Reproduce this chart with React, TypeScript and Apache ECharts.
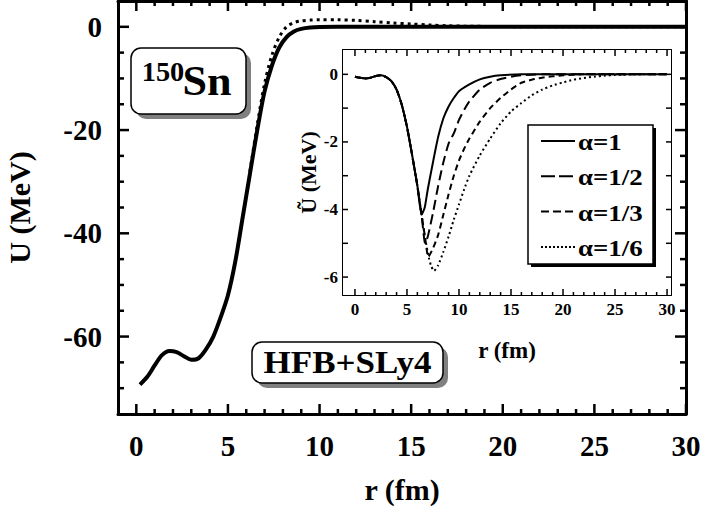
import React, { useEffect, useRef } from "react";
import * as echarts from "echarts";

const FONT = "Liberation Serif, Times New Roman, Times, serif";

// ---- tick labels ----
const MAIN_X_LABELS = [0, 5, 10, 15, 20, 25, 30];
const MAIN_Y_LABELS = [0, -20, -40, -60];
const INSET_X_LABELS = [0, 5, 10, 15, 20, 25, 30];
const INSET_Y_LABELS = [0, -2, -4, -6];
const LEGEND_LABELS = ["α=1", "α=1/2", "α=1/3", "α=1/6"];

// ---- tick positions ----
const MAIN_X_TICKS = [0, 1, 2, 3, 4, 5, 6, 7, 8, 9, 10, 11, 12, 13, 14, 15, 16, 17, 18, 19, 20, 21, 22, 23, 24, 25, 26, 27, 28, 29, 30];
const MAIN_Y_TICKS = [-70, -65, -60, -55, -50, -45, -40, -35, -30, -25, -20, -15, -10, -5, 0];
const INSET_X_TICKS = MAIN_X_TICKS;
const INSET_Y_TICKS = [-6, -5, -4, -3, -2, -1, 0];

// ---- main panel: U(r) ----
const mainR1 = [0.2, 0.6, 1.0, 1.4, 1.8, 2.2, 2.6, 3.0, 3.4, 3.8, 4.2, 4.6, 5.0, 5.4, 5.8, 6.2, 6.6, 7.0, 7.4, 7.8, 8.2, 8.6, 9.0, 9.5, 10, 11, 30];
const mainU1 = [-69.3, -67.8, -65.6, -63.6, -62.8, -63.0, -63.8, -64.5, -64.2, -62.5, -60.0, -56.3, -52.0, -45.5, -37.0, -28.5, -20.0, -12.5, -7.5, -4.0, -2.0, -0.9, -0.4, -0.15, -0.05, 0, 0];
const mainR6 = [6.2, 6.6, 7.0, 7.4, 7.8, 8.2, 8.6, 9.0, 9.5, 10, 11, 12, 13, 14, 15, 16, 17, 18, 20, 22, 30];
const mainU6 = [-28.0, -19.0, -11.0, -5.5, -2.0, 0.0, 0.8, 1.15, 1.3, 1.35, 1.35, 1.25, 1.0, 0.75, 0.55, 0.35, 0.2, 0.12, 0.05, 0, 0];

// ---- inset: U~(r) ----
const insetR1 = [0, 0.5, 1, 1.5, 2, 2.5, 3, 3.5, 4, 4.5, 5, 5.5, 6, 6.4, 6.7, 7, 7.5, 8, 8.5, 9, 9.5, 10, 11, 12, 13, 14, 16, 30];
const insetU1 = [-0.07, -0.1, -0.12, -0.1, -0.05, -0.03, -0.08, -0.2, -0.45, -0.9, -1.55, -2.4, -3.3, -4.15, -3.95, -3.4, -2.6, -1.85, -1.3, -0.95, -0.7, -0.5, -0.3, -0.15, -0.07, -0.03, 0, 0];
const insetR2 = [0, 0.5, 1, 1.5, 2, 2.5, 3, 3.5, 4, 4.5, 5, 5.5, 6, 6.4, 6.75, 7, 7.5, 8, 8.5, 9, 9.5, 10, 10.5, 11, 12, 13, 14, 15, 16, 18, 30];
const insetU2 = [-0.07, -0.1, -0.12, -0.1, -0.05, -0.03, -0.08, -0.2, -0.45, -0.9, -1.55, -2.4, -3.3, -4.15, -5.0, -4.8, -4.1, -3.3, -2.6, -2.05, -1.75, -1.35, -1.05, -0.8, -0.45, -0.25, -0.14, -0.07, -0.03, 0, 0];
const insetR3 = [0, 0.5, 1, 1.5, 2, 2.5, 3, 3.5, 4, 4.5, 5, 5.5, 6, 6.4, 6.75, 7.05, 7.5, 8, 8.5, 9, 9.5, 10, 10.5, 11, 12, 13, 14, 15, 16, 17, 18, 19, 20, 22, 30];
const insetU3 = [-0.07, -0.1, -0.12, -0.1, -0.05, -0.03, -0.08, -0.2, -0.45, -0.9, -1.55, -2.4, -3.3, -4.15, -4.85, -5.4, -5.15, -4.75, -4.15, -3.55, -3.0, -2.55, -2.2, -1.9, -1.4, -1.0, -0.7, -0.45, -0.25, -0.16, -0.1, -0.06, -0.03, 0, 0];
const insetR6 = [0, 0.5, 1, 1.5, 2, 2.5, 3, 3.5, 4, 4.5, 5, 5.5, 6, 6.4, 6.75, 7.05, 7.3, 7.6, 8, 8.5, 9, 9.5, 10, 10.5, 11, 12, 13, 14, 15, 16, 17, 18, 19, 20, 21, 22, 23, 24, 25, 27, 30];
const insetU6 = [-0.07, -0.1, -0.12, -0.1, -0.05, -0.03, -0.08, -0.2, -0.45, -0.9, -1.55, -2.4, -3.3, -4.15, -4.85, -5.35, -5.65, -5.82, -5.65, -5.25, -4.8, -4.3, -3.85, -3.4, -3.0, -2.4, -1.9, -1.45, -1.1, -0.85, -0.62, -0.45, -0.33, -0.24, -0.16, -0.11, -0.07, -0.04, -0.02, 0, 0];

function zip(xs: number[], ys: number[]) {
  return xs.map((x, i) => [x, ys[i]]);
}

const BLACK = "#000";
const labelStyle = (size: number, margin: number, allowed: number[]) => ({
  show: true,
  color: BLACK,
  fontFamily: FONT,
  fontWeight: "bold",
  fontSize: size,
  margin,
  showMinLabel: true,
  showMaxLabel: true,
  formatter: (v: number) => (allowed.some((a) => Math.abs(a - v) < 1e-6) ? String(v) : ""),
});
const nameStyle = (size: number) => ({ color: BLACK, fontFamily: FONT, fontWeight: "bold", fontSize: size });

function hidden(gridIndex: number) {
  return { type: "value", gridIndex, show: false, min: 0, max: 1 };
}

function frameAxis(gridIndex: number, position: string, min: number, max: number, lw: number, extra: any = {}) {
  return {
    type: "value",
    gridIndex,
    position,
    min,
    max,
    splitLine: { show: false },
    axisLine: { show: true, onZero: false, lineStyle: { color: BLACK, width: lw } },
    axisTick: { show: false },
    axisLabel: { show: false },
    ...extra,
  };
}

// label-only axis on an overlay grid whose range starts on a label value
function labelAxis(gridIndex: number, position: string, min: number, max: number, interval: number, label: any) {
  return {
    type: "value",
    gridIndex,
    position,
    min,
    max,
    interval,
    splitLine: { show: false },
    axisLine: { show: false, onZero: false },
    axisTick: { show: false },
    axisLabel: label,
  };
}

function textEl(text: string, x: number, y: number, size: number, align: string, scaleX: number, z = 20) {
  return {
    type: "text",
    x,
    y,
    scaleX,
    z,
    silent: true,
    style: {
      text,
      x: 0,
      y: 0,
      fill: BLACK,
      font: `bold ${size}px ${FONT}`,
      textAlign: align,
      align,
      textVerticalAlign: "middle",
      verticalAlign: "middle",
    },
  };
}

export default function App() {
  const ref = useRef<HTMLDivElement>(null);
  useEffect(() => {
    if (!ref.current) return;
    const chart = echarts.init(ref.current, null, { renderer: "svg" });

    // main geometry
    const mL = 118, mT = 1, mW = 568, mH = 413;
    const mxMin = -1, mxMax = 30, myMin = -75, myMax = 5;
    const mpx = mW / (mxMax - mxMin);
    const mpy = mH / (myMax - myMin);
    // inset geometry
    const iL = 343, iT = 50, iW = 328, iH = 245;
    const ixMin = -1.15, ixMax = 30.38, iyMin = -6.53, iyMax = 0.72;
    const ipx = iW / (ixMax - ixMin);
    const ipy = iH / (iyMax - iyMin);

    const G = (o: any) => ({ outerBoundsMode: "none", containLabel: false, ...o });
    const grid = [
      G({ left: mL, top: mT, width: mW, height: mH }), // 0 main data
      G({ left: mL + (0 - mxMin) * mpx, top: mT, width: 30 * mpx, height: mH }), // 1 main x labels
      G({ left: mL, top: mT + (myMax - 0) * mpy, width: mW, height: 60 * mpy }), // 2 main y labels
      G({ left: iL, top: iT, width: iW, height: iH, show: true, backgroundColor: "#fff", borderWidth: 0, z: 5 }), // 3 inset data
      G({ left: iL + (0 - ixMin) * ipx, top: iT, width: 30 * ipx, height: iH }), // 4 inset x labels
      G({ left: iL, top: iT + (iyMax - 0) * ipy, width: iW, height: 6 * ipy }), // 5 inset y labels
    ];

    const xAxis = [
      frameAxis(0, "bottom", mxMin, mxMax, 3, {
        name: "r (fm)", nameLocation: "middle", nameGap: 60, nameTextStyle: nameStyle(30),
      }), // 0
      frameAxis(0, "top", mxMin, mxMax, 3), // 1
      labelAxis(1, "bottom", 0, 30, 5, labelStyle(29, 17, MAIN_X_LABELS)), // 2
      hidden(2), // 3
      frameAxis(3, "bottom", ixMin, ixMax, 2, {
        name: "r (fm)", nameLocation: "middle", nameGap: 44, nameTextStyle: nameStyle(23),
      }), // 4
      frameAxis(3, "top", ixMin, ixMax, 2), // 5
      labelAxis(4, "bottom", 0, 30, 5, labelStyle(17, 6, INSET_X_LABELS)), // 6
      hidden(5), // 7
    ];

    const yAxis = [
      frameAxis(0, "left", myMin, myMax, 3, {
        name: "U (MeV)", nameLocation: "middle", nameGap: 84, nameTextStyle: nameStyle(30),
      }), // 0
      frameAxis(0, "right", myMin, myMax, 3), // 1
      hidden(1), // 2
      labelAxis(2, "left", -60, 0, 20, labelStyle(29, 16, MAIN_Y_LABELS)), // 3
      frameAxis(3, "left", iyMin, iyMax, 2, {
        name: "Ũ (MeV)", nameLocation: "middle", nameGap: 24, nameTextStyle: nameStyle(22),
      }), // 4
      frameAxis(3, "right", iyMin, iyMax, 2), // 5
      hidden(4), // 6
      labelAxis(5, "left", -6, 0, 2, labelStyle(17, 5, INSET_Y_LABELS)), // 7
    ];

    const legendTop = 141;
    const legendStep = 35.3;
    const dashes: any[] = [null, [14, 4], [8, 4], [2, 2]];
    const legendEls: any[] = [
      { type: "rect", z: 18, silent: true, shape: { x: 531, y: 128, width: 125, height: 139 }, style: { fill: BLACK } },
      { type: "rect", z: 19, silent: true, shape: { x: 528, y: 125, width: 125, height: 139 }, style: { fill: "#fff", stroke: BLACK, lineWidth: 1.5 } },
    ];
    LEGEND_LABELS.forEach((lab, i) => {
      const y = legendTop + legendStep * i;
      legendEls.push({
        type: "line",
        z: 20,
        silent: true,
        shape: { x1: 541, y1: y, x2: 575, y2: y },
        style: { stroke: BLACK, lineWidth: 2, lineDash: dashes[i] || undefined },
      });
      legendEls.push(textEl(lab, 578, y + 1, 24, "left", 1.12));
    });

    const line = (xi: number, yi: number, xs: number[], ys: number[], width: number, type: any, smooth: number, z: number) => ({
      type: "line",
      xAxisIndex: xi,
      yAxisIndex: yi,
      data: zip(xs, ys),
      showSymbol: false,
      symbol: "none",
      smooth,
      silent: true,
      z,
      lineStyle: { color: BLACK, width, type },
    });

    const baseGraphic: any[] = [
      // 150Sn label box
      { type: "rect", z: 18, silent: true, shape: { x: 136, y: 53, width: 115, height: 66, r: 10 }, style: { fill: "#808080" } },
      { type: "rect", z: 19, silent: true, shape: { x: 131, y: 48, width: 115, height: 66, r: 10 }, style: { fill: "#fff", stroke: BLACK, lineWidth: 1.5 } },
      textEl("150", 163, 72, 27, "center", 1.05),
      textEl("Sn", 207, 81, 42, "center", 1.05),
      // HFB+SLy4 label box
      { type: "rect", z: 18, silent: true, shape: { x: 257, y: 347, width: 191, height: 41, r: 10 }, style: { fill: "#808080" } },
      { type: "rect", z: 19, silent: true, shape: { x: 252, y: 342, width: 191, height: 41, r: 10 }, style: { fill: "#fff", stroke: BLACK, lineWidth: 1.5 } },
      textEl("HFB+SLy4", 347.5, 363, 31, "center", 1.13),
      ...legendEls,
    ];

    const option: any = {
      animation: false,
      backgroundColor: "#fff",
      grid,
      xAxis,
      yAxis,
      series: [
        line(0, 0, mainR1, mainU1, 4, "solid", 0.3, 3),
        line(0, 0, mainR6, mainU6, 3, [3, 4], 0.3, 3),
        line(4, 4, insetR1, insetU1, 2, "solid", 0.2, 6),
        line(4, 4, insetR2, insetU2, 2, [10, 5], 0.2, 6),
        line(4, 4, insetR3, insetU3, 2, [6, 4], 0.2, 6),
        line(4, 4, insetR6, insetU6, 2, [2, 3], 0.2, 6),
      ],
      graphic: baseGraphic,
    };
    chart.setOption(option);

    // inward ticks on both frames, placed through the grids' own scales
    const tickEls: any[] = [];
    const addTicks = (xi: number, yi: number, dir: "x" | "y", values: number[], majors: number[], minLen: number, majLen: number, width: number, lo: number, hi: number) => {
      values.forEach((v) => {
        const len = majors.some((m) => Math.abs(m - v) < 1e-6) ? majLen : minLen;
        [0, 1].forEach((side) => {
          const val = dir === "x" ? [v, side === 0 ? lo : hi] : [side === 0 ? lo : hi, v];
          const p: any = chart.convertToPixel({ xAxisIndex: xi, yAxisIndex: yi } as any, val);
          if (!p) return;
          const shape =
            dir === "x"
              ? { x1: p[0], y1: p[1], x2: p[0], y2: p[1] + (side === 0 ? -len : len) }
              : { x1: p[0], y1: p[1], x2: p[0] + (side === 0 ? len : -len), y2: p[1] };
          tickEls.push({ type: "line", z: 15, silent: true, shape, style: { stroke: BLACK, lineWidth: width } });
        });
      });
    };
    addTicks(0, 0, "x", MAIN_X_TICKS, MAIN_X_LABELS, 5, 10, 2.5, myMin, myMax);
    addTicks(0, 0, "y", MAIN_Y_TICKS, MAIN_Y_LABELS, 6, 11, 2.5, mxMin, mxMax);
    addTicks(4, 4, "x", INSET_X_TICKS, INSET_X_LABELS, 3, 6, 1.5, iyMin, iyMax);
    addTicks(4, 4, "y", INSET_Y_TICKS, INSET_Y_TICKS, 5, 5, 1.5, ixMin, ixMax);
    chart.setOption({ graphic: [...baseGraphic, ...tickEls] });

    return () => chart.dispose();
  }, []);

  return <div ref={ref} style={{ position: "fixed", left: 0, top: 0, width: 704, height: 506 }} />;
}
